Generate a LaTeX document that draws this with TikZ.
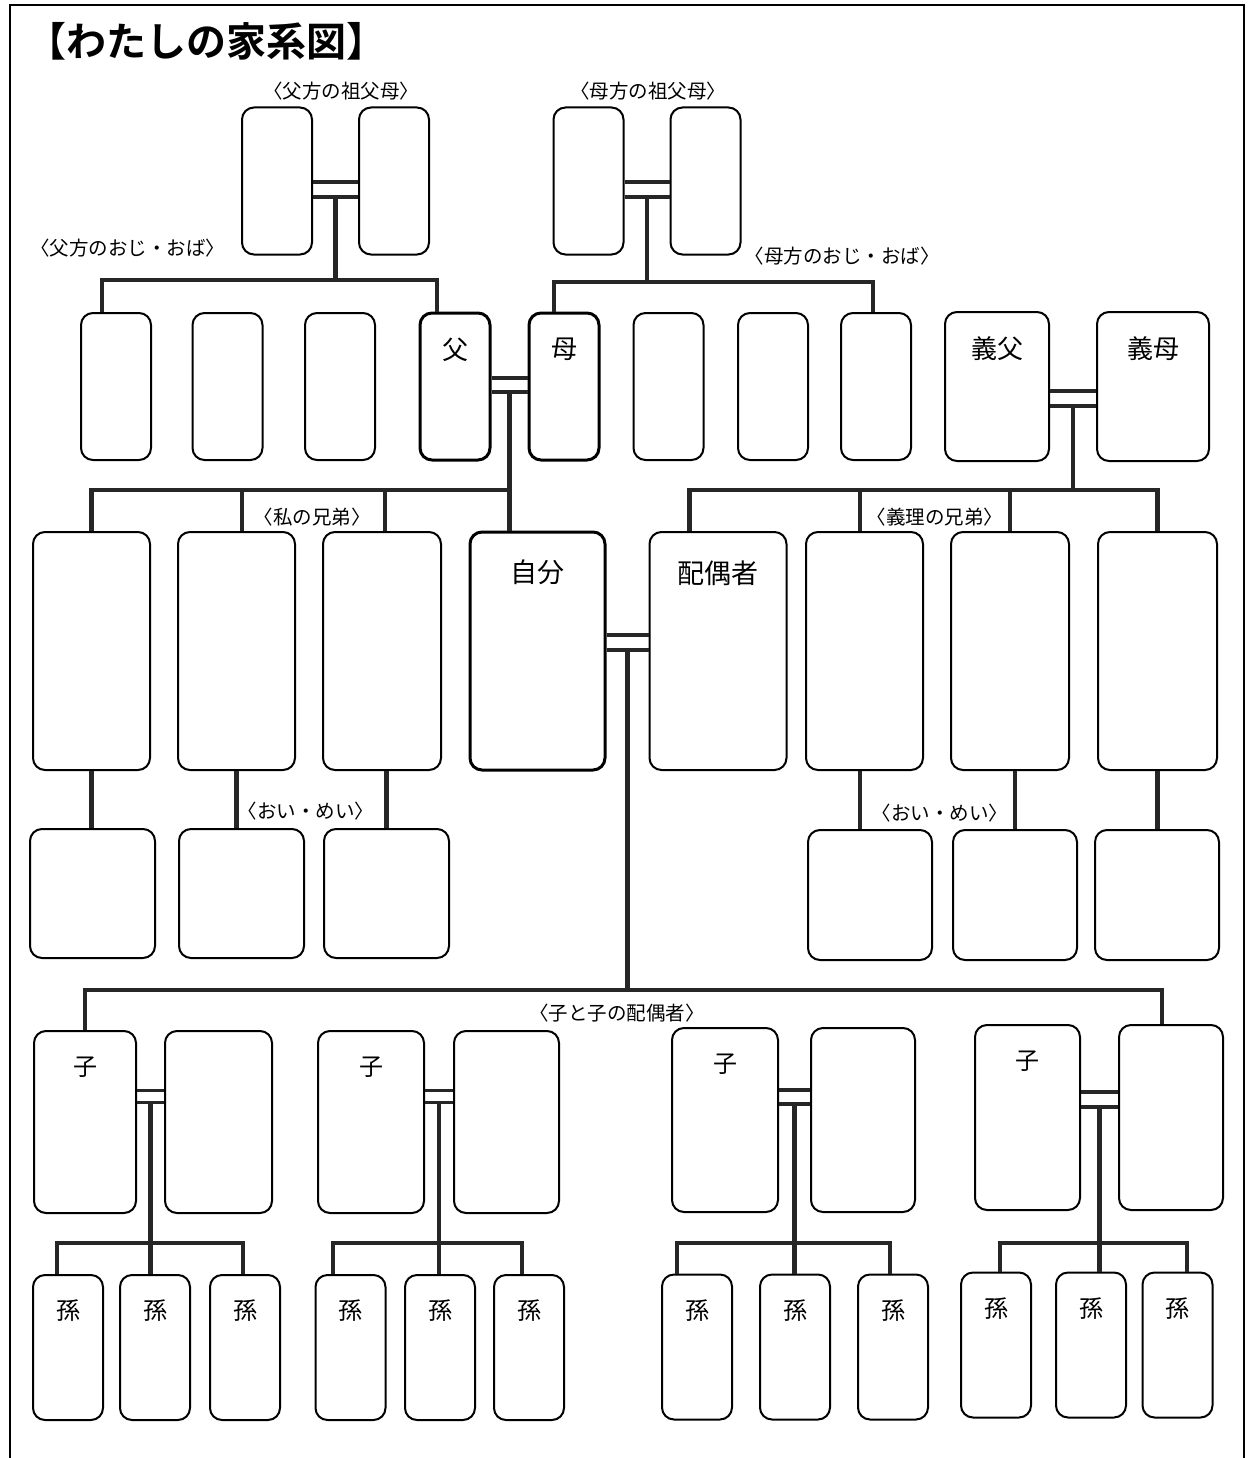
\documentclass[tikz,border=0pt]{standalone}
\usepackage{fontspec}
\usepackage{tikz}
\usetikzlibrary{positioning,calc}
\newfontfamily\jp{Noto Sans CJK JP}[BoldFont={Noto Sans CJK JP Bold}]
\tikzset{
    box/.style={rectangle, rounded corners=12pt, draw=black, line width=2pt, inner sep=0pt, minimum width=70pt, minimum height=147pt},
    boldbox/.style={box, line width=3pt},
    wh/.style 2 args={minimum width=#1pt, minimum height=#2pt},
    tag/.style={label={[anchor=center, yshift=-38pt, font=\jp\fontsize{26pt}{28pt}\selectfont]north:#1}},
    bigtag/.style={label={[anchor=center, yshift=-42pt, font=\jp\fontsize{27pt}{29pt}\selectfont]north:#1}},
    kidtag/.style={label={[anchor=center, yshift=-37pt, font=\jp\fontsize{24pt}{26pt}\selectfont]north:#1}},
    group/.style={font=\jp\fontsize{19.5pt}{21pt}\selectfont, inner sep=0pt},
    line/.style={line width=4.5pt, draw=black!85},
    wed/.style={line width=3.5pt, draw=black!85},
    frame/.style={line width=1.6pt},
}
\begin{document}
\begin{tikzpicture}[x=1pt, y=-1pt]
        \useasboundingbox (0,0) rectangle (1249,1458);
        \draw[frame] (10,1458) -- (10,5) -- (1244,5) -- (1244,1458);

        \node[font=\jp\bfseries\fontsize{40pt}{42pt}\selectfont, anchor=west, inner sep=0pt] (title) at (26,41) {【わたしの家系図】};

        \node[group] (lblpg) at (341,91) {〈父方の祖父母〉};
        \node[group] (lblmg) at (648,91) {〈母方の祖父母〉};
        \node[group] (lblpu) at (128,248) {〈父方のおじ・おば〉};
        \node[group] (lblmu) at (842,256) {〈母方のおじ・おば〉};
        \node[group] (lblsib) at (312,517) {〈私の兄弟〉};
        \node[group] (lblisib) at (935,517) {〈義理の兄弟〉};
        \node[group] (lblnep) at (306,811) {〈おい・めい〉};
        \node[group] (lblinep) at (940,813) {〈おい・めい〉};
        \node[group] (lblkid) at (617,1013) {〈子と子の配偶者〉};

        \node[box] (gpF1) at (277,181) {};
        \node[box, right=45pt of gpF1] (gpF2) {};
        \node[box] (gpM1) at (588.5,181) {};
        \node[box, right=45pt of gpM1] (gpM2) {};

        \node[box] (ob1) at (116,386.5) {};
        \node[box] (ob2) at (227.5,386.5) {};
        \node[box] (ob3) at (340,386.5) {};
        \node[boldbox, tag=父] (father) at (455,386.5) {};
        \node[boldbox, tag=母, right=36pt of father] (mother) {};
        \node[box] (om1) at (668.5,386.5) {};
        \node[box] (om2) at (773,386.5) {};
        \node[box] (om3) at (876,386.5) {};
        \node[box, wh={104}{149}, tag=義父] (inlawF) at (997,386.5) {};
        \node[box, wh={112}{149}, tag=義母, right=46pt of inlawF] (inlawM) {};

        \node[box, wh={117}{238}] (sib1) at (91.5,651) {};
        \node[box, wh={117}{238}] (sib2) at (236.5,651) {};
        \node[box, wh={118}{238}] (sib3) at (382,651) {};
        \node[boldbox, wh={135}{238}, bigtag=自分] (self) at (537.5,651) {};
        \node[box, wh={137}{238}, bigtag=配偶者, right=42pt of self] (spouse) {};
        \node[box, wh={117}{238}] (isib1) at (864.5,651) {};
        \node[box, wh={118}{238}] (isib2) at (1010,651) {};
        \node[box, wh={119}{238}] (isib3) at (1157.5,651) {};

        \node[box, wh={125}{129}] (nep1) at (92.5,893.5) {};
        \node[box, wh={125}{129}] (nep2) at (241.5,893.5) {};
        \node[box, wh={125}{129}] (nep3) at (386.5,893.5) {};
        \node[box, wh={124}{130}] (nep4) at (870,895) {};
        \node[box, wh={124}{130}] (nep5) at (1015,895) {};
        \node[box, wh={124}{130}] (nep6) at (1157,895) {};

        \node[box, wh={102}{182}, kidtag=子] (kid1) at (85,1122) {};
        \node[box, wh={107}{182}, right=27pt of kid1] (kid1p) {};
        \node[box, wh={106}{182}, kidtag=子] (kid2) at (371,1122) {};
        \node[box, wh={105}{182}, right=28pt of kid2] (kid2p) {};
        \node[box, wh={106}{184}, kidtag=子] (kid3) at (725,1120) {};
        \node[box, wh={104}{184}, right=31pt of kid3] (kid3p) {};
        \node[box, wh={105}{185}, kidtag=子] (kid4) at (1027.5,1117.5) {};
        \node[box, wh={104}{185}, right=37pt of kid4] (kid4p) {};

        \node[box, wh={70}{145}, kidtag=孫] (gk1) at (68,1347.5) {};
        \node[box, wh={70}{145}, kidtag=孫] (gk2) at (155,1347.5) {};
        \node[box, wh={70}{145}, kidtag=孫] (gk3) at (245,1347.5) {};
        \node[box, wh={70}{145}, kidtag=孫] (gk4) at (350.5,1347.5) {};
        \node[box, wh={70}{145}, kidtag=孫] (gk5) at (440,1347.5) {};
        \node[box, wh={70}{145}, kidtag=孫] (gk6) at (529,1347.5) {};
        \node[box, wh={70}{145}, kidtag=孫] (gk7) at (697,1347) {};
        \node[box, wh={70}{145}, kidtag=孫] (gk8) at (795,1347) {};
        \node[box, wh={70}{145}, kidtag=孫] (gk9) at (893,1347) {};
        \node[box, wh={70}{145}, kidtag=孫] (gk10) at (996,1345) {};
        \node[box, wh={70}{145}, kidtag=孫] (gk11) at (1091,1345) {};
        \node[box, wh={70}{145}, kidtag=孫] (gk12) at (1177.5,1345) {};

        \coordinate (pF) at ($(gpF1.east)!.5!(gpF2.west)$);
        \coordinate (barF) at ($(pF)+(0,99)$);
        \draw[wed] ([yshift=-1pt]gpF1.east) -- ([yshift=-1pt]gpF2.west);
        \draw[wed] ([yshift=-16pt]gpF1.east) -- ([yshift=-16pt]gpF2.west);
        \draw[line] ([yshift=-16pt]pF) -- (barF);
        \draw[line] ([xshift=-14pt]ob1.north) |- (barF) -| ([xshift=-18pt]father.north);

        \coordinate (pM) at ($(gpM1.east)!.5!(gpM2.west)$);
        \coordinate (barM) at ($(pM)+(0,101)$);
        \draw[wed] ([yshift=-1pt]gpM1.east) -- ([yshift=-1pt]gpM2.west);
        \draw[wed] ([yshift=-16pt]gpM1.east) -- ([yshift=-16pt]gpM2.west);
        \draw[line] ([yshift=-16pt]pM) -- (barM);
        \draw[line] ([xshift=-10pt]mother.north) |- (barM) -| ([xshift=-3pt]om3.north);

        \coordinate (pP) at ($(father.east)!.5!(mother.west)$);
        \coordinate (barS) at ($(pP)+(0,103.5)$);
        \draw[wed] ([yshift=8.5pt]father.east) -- ([yshift=8.5pt]mother.west);
        \draw[wed] ([yshift=-5.5pt]father.east) -- ([yshift=-5.5pt]mother.west);
        \draw[line] ([yshift=-5.5pt]pP) -- (pP |- self.north);
        \draw[line] (sib1.north) |- (barS);
        \draw[line] ([xshift=5.5pt]sib2.north) |- (barS);
        \draw[line] ([xshift=3pt]sib3.north) |- (barS);

        \coordinate (pI) at ($(inlawF.east)!.5!(inlawM.west)$);
        \coordinate (barI) at ($(pI)+(0,103.5)$);
        \draw[wed] ([yshift=-4.5pt]inlawF.east) -- ([yshift=-4.5pt]inlawM.west);
        \draw[wed] ([yshift=-19.5pt]inlawF.east) -- ([yshift=-19.5pt]inlawM.west);
        \draw[line] ([yshift=-19.5pt]pI) -- (barI);
        \draw[line] ([xshift=-28.5pt]spouse.north) |- (barI) -| (isib3.north);
        \draw[line] ([xshift=-4.5pt]isib1.north) |- (barI);
        \draw[line] (isib2.north) |- (barI);

        \draw[line] (sib1.south) -- (sib1.south |- nep1.north);
        \draw[line] (sib2.south) -- (sib2.south |- nep2.north);
        \draw[line] (nep3.north |- sib3.south) -- (nep3.north);
        \draw[line] ([xshift=-4.5pt]isib1.south) -- ([xshift=-4.5pt]nep4.north -| isib1.south);
        \draw[line] (nep5.north |- isib2.south) -- (nep5.north);
        \draw[line] (isib3.south) -- (isib3.south |- nep6.north);

        \coordinate (pS) at ($(self.east)!.5!(spouse.west)$);
        \coordinate (barK) at ($(pS)+(0,339)$);
        \draw[wed] ([yshift=16pt]self.east) -- ([yshift=16pt]spouse.west);
        \draw[wed] ([yshift=1pt]self.east) -- ([yshift=1pt]spouse.west);
        \draw[line] ([yshift=1pt]pS) -- (barK);
        \draw[line] (kid1.north) |- (barK) -| ([xshift=-9pt]kid4p.north);

        \coordinate (pK1) at ($(kid1.east)!.5!(kid1p.west)$);
        \coordinate (barG1) at ($(pK1)+(0,121)$);
        \draw[wed] ([yshift=31.5pt]kid1.east) -- ([yshift=31.5pt]kid1p.west);
        \draw[wed] ([yshift=19.5pt]kid1.east) -- ([yshift=19.5pt]kid1p.west);
        \draw[line] ([yshift=19.5pt]pK1) -- (pK1 |- gk2.north);
        \draw[line] ([xshift=-11pt]gk1.north) |- (barG1) -| ([xshift=-2pt]gk3.north);

        \coordinate (pK2) at ($(kid2.east)!.5!(kid2p.west)$);
        \coordinate (barG2) at ($(pK2)+(0,121)$);
        \draw[wed] ([yshift=31.5pt]kid2.east) -- ([yshift=31.5pt]kid2p.west);
        \draw[wed] ([yshift=19.5pt]kid2.east) -- ([yshift=19.5pt]kid2p.west);
        \draw[line] ([yshift=19.5pt]pK2) -- (pK2 |- gk5.north);
        \draw[line] ([xshift=-17.5pt]gk4.north) |- (barG2) -| ([xshift=-7pt]gk6.north);

        \coordinate (pK3) at ($(kid3.east)!.5!(kid3p.west)$);
        \coordinate (barG3) at ($(pK3)+(0,123)$);
        \draw[wed] ([yshift=30pt]kid3.east) -- ([yshift=30pt]kid3p.west);
        \draw[wed] ([yshift=16pt]kid3.east) -- ([yshift=16pt]kid3p.west);
        \draw[line] ([yshift=16pt]pK3) -- (pK3 |- gk8.north);
        \draw[line] ([xshift=-20pt]gk7.north) |- (barG3) -| ([xshift=-3pt]gk9.north);

        \coordinate (pK4) at ($(kid4.east)!.5!(kid4p.west)$);
        \coordinate (barG4) at ($(pK4)+(0,125.5)$);
        \draw[wed] ([yshift=25.5pt]kid4.east) -- ([yshift=25.5pt]kid4p.west);
        \draw[wed] ([yshift=10.5pt]kid4.east) -- ([yshift=10.5pt]kid4p.west);
        \draw[line] ([yshift=10.5pt]pK4) -- (pK4 |- gk11.north);
        \draw[line] ([xshift=4pt]gk10.north) |- (barG4) -| ([xshift=9.5pt]gk12.north);

    \end{tikzpicture}
\end{document}
